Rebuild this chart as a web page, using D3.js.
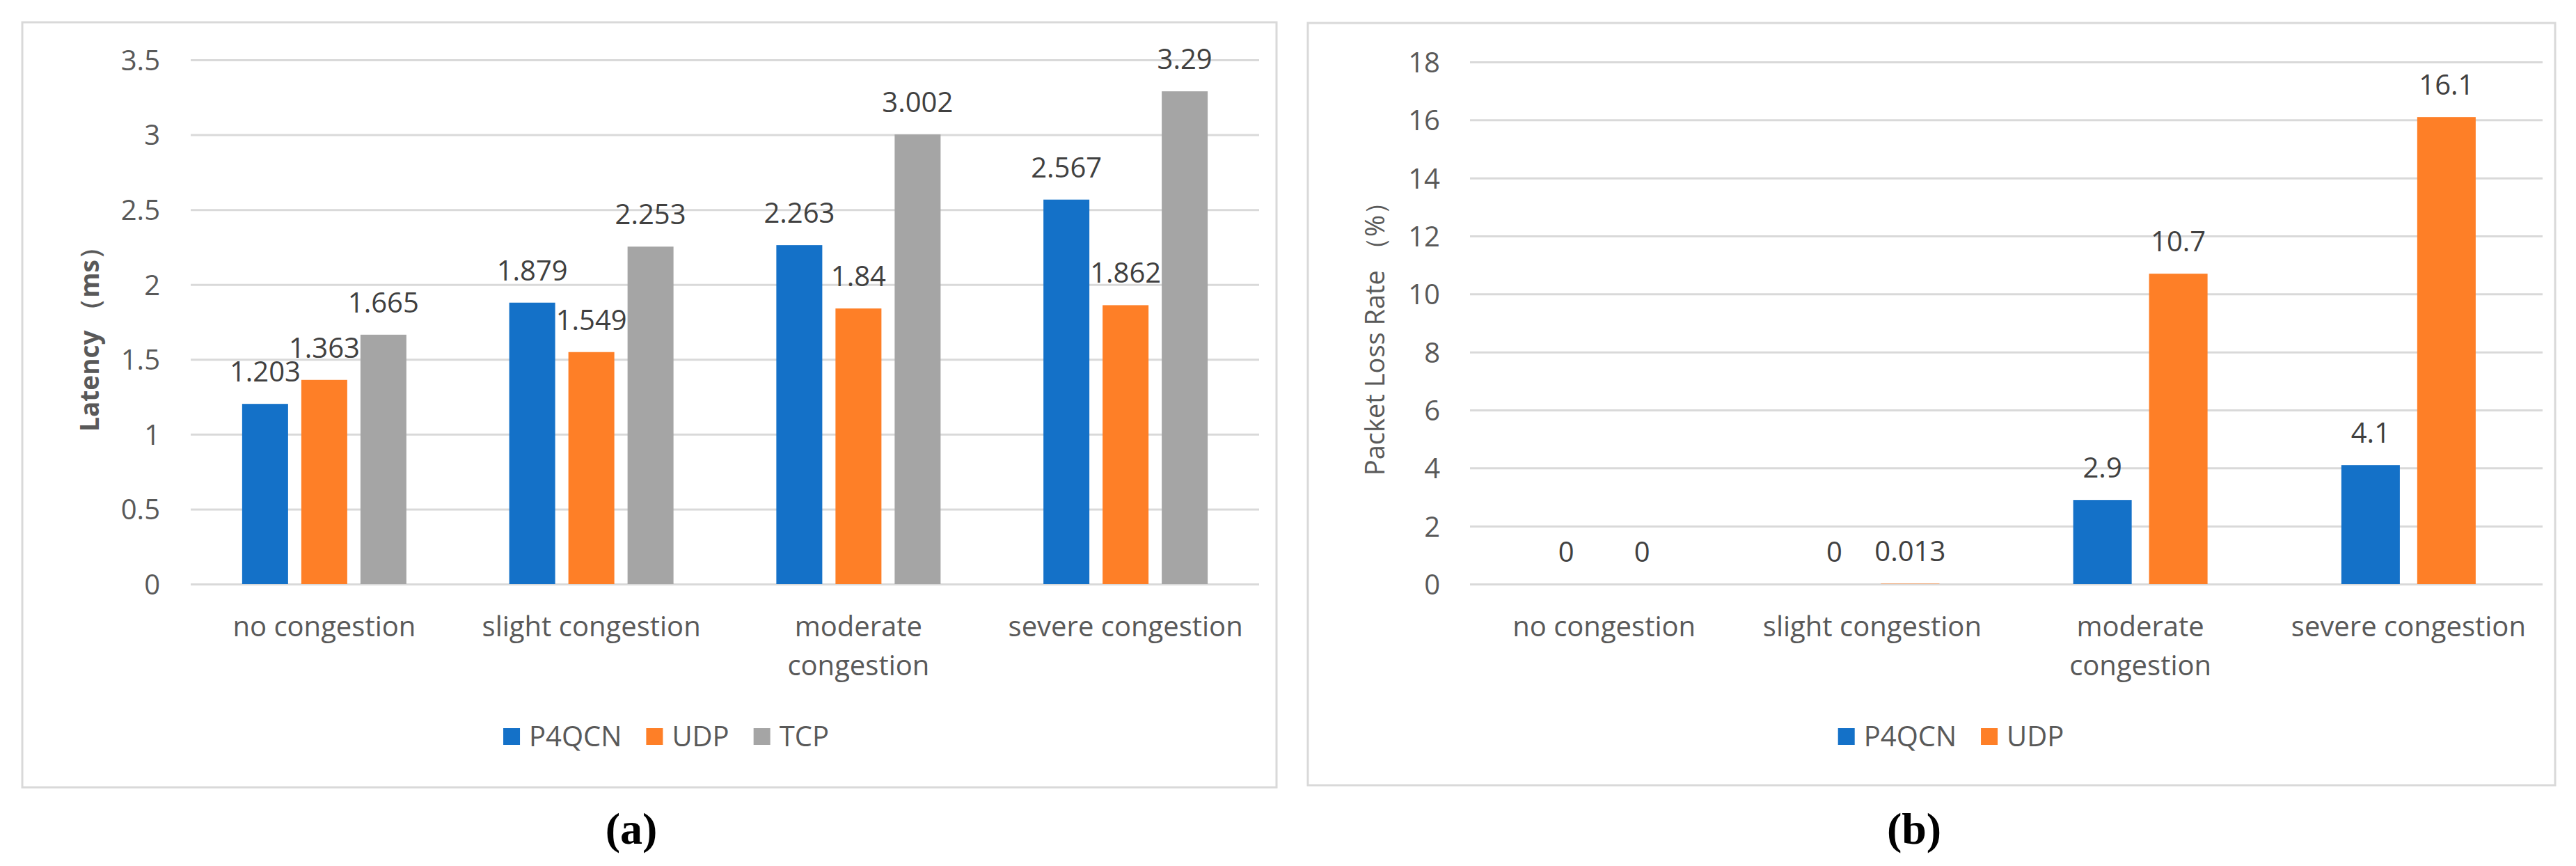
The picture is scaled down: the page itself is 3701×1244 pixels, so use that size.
<!DOCTYPE html>
<html>
<head>
<meta charset="utf-8">
<title>P4QCN latency and packet loss</title>
<script src="https://cdn.jsdelivr.net/npm/d3@7"></script>
<style>
  body { margin: 0; background: #fff; }
  text { font-family: "Open Sans", "Noto Sans", sans-serif; }
</style>
</head>
<body>
  <div id="container"></div>
<script>
  // Categories shared by both charts.
  const categories = ["no congestion", "slight congestion", "moderate congestion", "severe congestion"];
  const categoryLines = [["no congestion"], ["slight congestion"], ["moderate", "congestion"], ["severe congestion"]];

  // (a) latency, ms.
  const latencySeries = ["P4QCN", "UDP", "TCP"];
  const latencyP4QCN = [1.203, 1.879, 2.263, 2.567];
  const latencyUDP = [1.363, 1.549, 1.84, 1.862];
  const latencyTCP = [1.665, 2.253, 3.002, 3.29];
  const latencyTicks = [0, 0.5, 1, 1.5, 2, 2.5, 3, 3.5];

  // (b) packet loss rate, %.
  const lossSeries = ["P4QCN", "UDP"];
  const lossP4QCN = [0, 0, 2.9, 4.1];
  const lossUDP = [0, 0.013, 10.7, 16.1];
  const lossTicks = [0, 2, 4, 6, 8, 10, 12, 14, 16, 18];

  const colors = { P4QCN: "#1471c8", UDP: "#fe7f27", TCP: "#a5a5a5" };

  const width = 3701;
  const height = 1244;

  // Create the SVG container.
  const svg = d3.create("svg")
      .attr("width", width)
      .attr("height", height)
      .attr("viewBox", [0, 0, width, height]);

  svg.append("rect").attr("width", width).attr("height", height).attr("fill", "#fff");

  function drawPanel(p) {
    const g = svg.append("g");

    // Panel frame.
    g.append("rect")
        .attr("x", p.box[0]).attr("y", p.box[1])
        .attr("width", p.box[2] - p.box[0]).attr("height", p.box[3] - p.box[1])
        .attr("fill", "none")
        .attr("stroke", "#d9d9d9")
        .attr("stroke-width", 3);

    const x = d3.scaleBand()
        .domain(categories)
        .range([p.left, p.right]);

    const xs = d3.scaleBand()
        .domain(p.series)
        .range([0, p.groupWidth])
        .paddingInner(p.barGap);

    const y = d3.scaleLinear()
        .domain([0, d3.max(p.ticks)])
        .range([p.zeroY, p.topY]);

    // Y axis with gridlines.
    const yAxis = g.append("g")
        .attr("transform", `translate(${p.left},0)`)
        .call(d3.axisLeft(y)
            .tickValues(p.ticks)
            .tickFormat(d => String(d))
            .tickSizeInner(-(p.right - p.left))
            .tickSizeOuter(0)
            .tickPadding(p.tickPad));
    yAxis.select(".domain").remove();
    yAxis.selectAll(".tick line")
        .attr("stroke", "#d9d9d9")
        .attr("stroke-width", 3);
    yAxis.selectAll(".tick text")
        .attr("fill", "#595959")
        .attr("font-size", 40)
        .attr("font-family", "Open Sans")
        .attr("dy", "0.36em");

    // Bars and value labels.
    const rows = categories.map((c, i) => p.series.map((s, j) => ({ c, s, v: p.values[j][i] })));
    const groups = g.append("g")
        .selectAll("g")
        .data(rows)
        .join("g")
        .attr("transform", (d, i) => `translate(${x(categories[i]) + (x.bandwidth() - p.groupWidth) / 2},0)`);

    groups.selectAll("rect")
        .data(d => d)
        .join("rect")
        .attr("x", d => xs(d.s))
        .attr("y", d => y(d.v))
        .attr("width", xs.bandwidth())
        .attr("height", d => y(0) - y(d.v))
        .attr("fill", d => colors[d.s]);

    groups.selectAll("text")
        .data(d => d)
        .join("text")
        .attr("x", d => xs(d.s) + xs.bandwidth() / 2)
        .attr("y", d => y(d.v) - 32)
        .attr("text-anchor", "middle")
        .attr("font-size", 40)
        .attr("fill", "#404040")
        .text(d => String(d.v));

    // Category labels.
    g.append("g")
        .selectAll("text")
        .data(categories)
        .join("text")
        .attr("x", d => x(d) + x.bandwidth() / 2)
        .attr("y", 914)
        .attr("text-anchor", "middle")
        .attr("font-size", 40)
        .attr("fill", "#595959")
        .each(function(d, i) {
          d3.select(this).selectAll("tspan")
              .data(categoryLines[i])
              .join("tspan")
              .attr("x", x(d) + x.bandwidth() / 2)
              .attr("dy", (t, k) => k === 0 ? 0 : 56)
              .text(t => t);
        });

    // Y axis title.
    g.append("text")
        .attr("transform", `translate(${p.titleX},${p.titleY}) rotate(-90)`)
        .attr("text-anchor", "middle")
        .attr("dominant-baseline", "central")
        .attr("font-size", p.titleSize)
        .attr("font-weight", p.titleWeight)
        .attr("fill", "#595959")
        .text(p.title);

    // Legend, centred on legendX.
    const legend = g.append("g");
    let cursor = 0;
    p.series.forEach(s => {
      legend.append("rect")
          .attr("x", cursor).attr("y", 1046)
          .attr("width", 24).attr("height", 24)
          .attr("fill", colors[s]);
      const t = legend.append("text")
          .attr("x", cursor + 37).attr("y", 1072)
          .attr("font-size", 40)
          .attr("fill", "#595959")
          .text(s);
      cursor += 37 + t.node().getComputedTextLength() + 35;
    });
    legend.attr("transform", `translate(${p.legendX - (cursor - 35) / 2},0)`);

    // Panel label.
    svg.append("text")
        .attr("x", p.labelX)
        .attr("y", 1212)
        .attr("text-anchor", "middle")
        .attr("font-family", "Liberation Serif, DejaVu Serif, serif")
        .style("font-family", "'Liberation Serif', 'DejaVu Serif', serif")
        .attr("font-weight", "bold")
        .attr("font-size", 64)
        .attr("fill", "#000")
        .text(p.label);
  }

  // Append the SVG element to the container first so text can be measured.
  document.getElementById("container").append(svg.node());

  drawPanel({
    box: [32, 32, 1834, 1131],
    left: 274, right: 1809, zeroY: 839, topY: 86,
    series: latencySeries,
    values: [latencyP4QCN, latencyUDP, latencyTCP],
    ticks: latencyTicks,
    groupWidth: 236, barGap: 0.2235, tickPad: 44,
    title: "Latency （ms）", titleX: 127, titleY: 478, titleSize: 37, titleWeight: "bold",
    legendX: 957, label: "(a)", labelX: 907
  });

  drawPanel({
    box: [1879, 33, 3671, 1128],
    left: 2112, right: 3653, zeroY: 839, topY: 89,
    series: lossSeries,
    values: [lossP4QCN, lossUDP],
    ticks: lossTicks,
    groupWidth: 193, barGap: 0.229, tickPad: 43,
    title: "Packet Loss Rate （%）", titleX: 1974, titleY: 477, titleSize: 38, titleWeight: "normal",
    legendX: 2803, label: "(b)", labelX: 2750
  });
</script>
</body>
</html>
